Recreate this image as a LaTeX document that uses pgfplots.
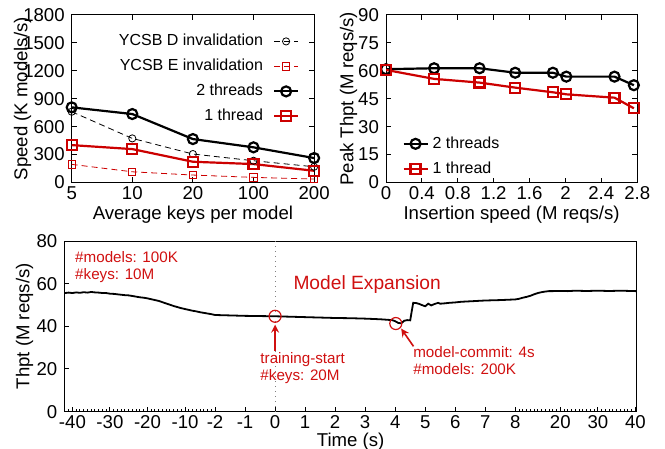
\documentclass[border=0pt]{standalone}
\usepackage{fontspec}
\setmainfont{Liberation Sans}
\usepackage{pgfplots}
\pgfplotsset{compat=1.18}
\definecolor{GpRed}{HTML}{CC0000}
\definecolor{NoteRed}{HTML}{D01010}
\begin{document}
\begin{tikzpicture}
\useasboundingbox (0,0) rectangle (332.5pt,-224.5pt);
\pgfplotsset{
  every axis/.append style={
    scale only axis, anchor=north west,
    axis line style={line width=0.5pt},
    tick style={line width=0.5pt,black},
    major tick length=2.5pt, minor tick length=1.5pt, tick align=inside,
    tick label style={font=\fontsize{9.3}{10}\selectfont},
    xticklabel style={yshift=1.5pt},
    label style={font=\fontsize{9.3}{10}\selectfont},
    /pgf/number format/assume math mode=true,
    /pgf/number format/1000 sep={},
  },
  gpleg/.style={legend image code/.code={
    \draw[mark repeat=2,mark phase=2] plot coordinates {(0pt,0pt) (6pt,0pt) (12pt,0pt)};}},
}
% ---------- top left: speed vs keys per model
\begin{axis}[at={(35.85pt,-7.5pt)}, width=121.2pt, height=83.7pt,
  xmin=0, xmax=4, ymin=0, ymax=1800,
  xtick={0,1,2,3,4}, xticklabels={5,10,20,100,200},
  ytick={0,300,600,900,1200,1500,1800},
  xlabel={Average keys per model}, ylabel={Speed (K models/s)},
  xlabel style={at={(axis description cs:0.5,0)}, anchor=base, yshift=-18.7pt},
  ylabel style={at={(axis description cs:-0.183,0.5)}, anchor=base},
  gpleg, legend plot pos=right, legend cell align=right,
  legend style={draw=none, fill=none, at={(0.965,0.936)}, anchor=north east,
    font=\fontsize{8}{9}\selectfont, row sep=1.2pt, column sep=3pt}]
\addplot[black, densely dashed, line width=0.4pt, mark=o, mark size=1.8pt, mark options={solid}]
  coordinates {(0,760)(1,473)(2,305)(3,233)(4,168)};
\addlegendentry{YCSB D invalidation}
\addplot[GpRed, densely dashed, line width=0.4pt, mark=square, mark size=1.8pt, mark options={solid}]
  coordinates {(0,194)(1,114)(2,79)(3,54)(4,36)};
\addlegendentry{YCSB E invalidation}
\addplot[black, line width=1.1pt, mark=o, mark size=2.5pt]
  coordinates {(0,807)(1,735)(2,466)(3,377)(4,262)};
\addlegendentry{2 threads}
\addplot[GpRed, line width=1.1pt, mark=square, mark size=2.5pt]
  coordinates {(0,401)(1,358)(2,222)(3,197)(4,125)};
\addlegendentry{1 thread}
\end{axis}
% ---------- top right: peak throughput vs insertion speed
\begin{axis}[at={(193pt,-7.5pt)}, width=125.6pt, height=83.8pt,
  xmin=0, xmax=2.8, ymin=0, ymax=90,
  xtick={0,0.4,0.8,1.2,1.6,2,2.4,2.8},
  ytick={0,15,30,45,60,75,90},
  xlabel={Insertion speed (M reqs/s)}, ylabel={Peak Thpt (M reqs/s)},
  xlabel style={at={(axis description cs:0.5,0)}, anchor=base, yshift=-18.7pt},
  ylabel style={at={(axis description cs:-0.130,0.5)}, anchor=base},
  gpleg, legend cell align=left,
  legend style={draw=none, fill=none, at={(0.04,0.325)}, anchor=north west,
    font=\fontsize{8}{9}\selectfont, row sep=1.2pt}]
\addplot[black, line width=1.1pt, mark=o, mark size=2.5pt]
  coordinates {(0,60.9)(0.536,61.4)(1.043,61.4)(1.44,59.0)(1.86,59.0)(2.01,56.9)(2.547,56.9)(2.763,52.3)};
\addlegendentry{2 threads}
\addplot[GpRed, line width=1.1pt, mark=square, mark size=2.5pt]
  coordinates {(0,60.5)(0.536,55.7)(1.043,53.7)(1.44,51.0)(1.86,48.5)(2.01,47.4)(2.547,45.6)(2.763,39.9)};
\addlegendentry{1 thread}
\end{axis}
% ---------- bottom: throughput over time (broken time axis)
\begin{axis}[at={(32.15pt,-120.5pt)}, width=286.3pt, height=85.3pt,
  xmin=-7.02, xmax=12.05, ymin=0, ymax=80,
  xtick pos=bottom, ytick pos=left,
  xtick={-6.75,-5.5,-4.25,-3,-2,-1,0,1,2,3,4,5,6,7,8,9.5,10.75,12},
  xticklabels={-40,-30,-20,-10,-2,-1,0,1,2,3,4,5,6,7,8,20,30,40},
  minor xtick={-7,-6.875,...,-2.1,8.125,8.25,...,12},
  ytick={0,20,40,60,80},
  xlabel={Time (s)}, ylabel={Thpt (M reqs/s)},
  xlabel style={at={(axis description cs:0.5,0)}, anchor=base, yshift=-17.5pt},
  ylabel style={at={(axis description cs:-0.0611,0.5)}, anchor=base},
  x filter/.expression={x<-2 ? -2+(x+2)*0.125 : (x>8 ? 8+(x-8)*0.125 : x)},
  clip=false]
\draw[gray, dotted, line width=0.5pt] (axis cs:0,0) -- (axis cs:0,80);
\addplot[black, line width=0.9pt, mark=none] coordinates {
(-42,55.6)(-41,55.8)(-40,55.6)(-39,55.9)(-38,55.7)(-37,56.0)(-36,55.8)(-35,56.1)(-34,55.9)
(-33,55.8)(-32,55.6)(-31,55.6)(-30,55.3)(-29,55.2)(-28,55.0)(-27,54.8)(-26,54.6)(-25,54.5)
(-24,54.2)(-23,53.9)(-22,53.6)(-21,53.4)(-20,53.1)(-19,52.7)(-18,52.3)(-17,51.9)(-16,51.3)
(-15,50.7)(-14,50.1)(-13,49.5)(-12,49.0)(-11,48.5)(-10,48.1)(-9,47.7)(-8,47.3)(-7,47.0)
(-6,46.6)(-5,46.3)(-4,46.0)(-3,45.7)(-2,45.3)
(-1.5,45.1)(-1,44.9)(-0.5,44.8)(0,44.7)(0.5,44.5)(1,44.3)(1.5,44.1)(2,43.9)(2.5,43.8)
(3,43.6)(3.5,43.3)(3.9,42.9)(4.0,42.4)(4.1,41.6)(4.2,41.4)(4.3,42.6)(4.4,42.9)(4.5,42.8)
(4.55,47.0)(4.6,51.0)(4.7,50.9)(4.8,50.5)(4.9,49.9)(5.0,49.4)(5.1,50.6)(5.2,49.8)(5.3,50.4)
(5.43,51.0)(5.5,50.6)(5.6,50.7)(5.8,51.0)(6.0,51.2)(6.2,51.5)(6.6,51.8)(7.0,52.1)(7.5,52.3)
(8.0,52.6)(9,52.9)(10,53.4)(11,53.8)(12,54.3)(13,55.0)(14,55.6)(15,56.0)(16,56.3)(17,56.5)
(18,56.5)(20,56.6)(22,56.5)(24,56.7)(26,56.6)(28,56.6)(30,56.7)(32,56.6)(34,56.6)(36,56.7)
(38,56.6)(40,56.5)(40.4,56.5)};
\draw[NoteRed, line width=0.6pt] (axis cs:0,44.7) circle[radius=3pt];
\draw[NoteRed, line width=0.6pt] (axis cs:4.02,41.3) circle[radius=3pt];
\draw[NoteRed, line width=0.8pt, -stealth] (axis cs:0,28.4) -- (axis cs:0,40.8);
\draw[NoteRed, line width=0.8pt, -stealth] (axis cs:4.61,30.6) -- (axis cs:4.2,38.9);
\node[NoteRed, anchor=north west, align=left, inner sep=0pt, font=\fontsize{7.6}{8.3}\selectfont]
  at (axis cs:-6.67,75.2) {\#models: 100K\\\#keys: 10M};
\node[NoteRed, anchor=west, inner sep=0pt, font=\fontsize{9.6}{11}\selectfont]
  at (axis cs:0.6,59.6) {Model Expansion};
\node[NoteRed, anchor=north west, align=left, inner sep=0pt, font=\fontsize{7.6}{8.3}\selectfont]
  at (axis cs:-0.5,27.8) {training-start\\\#keys: 20M};
\node[NoteRed, anchor=north west, align=left, inner sep=0pt, font=\fontsize{7.6}{8.3}\selectfont]
  at (axis cs:4.59,30.6) {model-commit: 4s\\\#models: 200K};
\end{axis}
\end{tikzpicture}
\end{document}
